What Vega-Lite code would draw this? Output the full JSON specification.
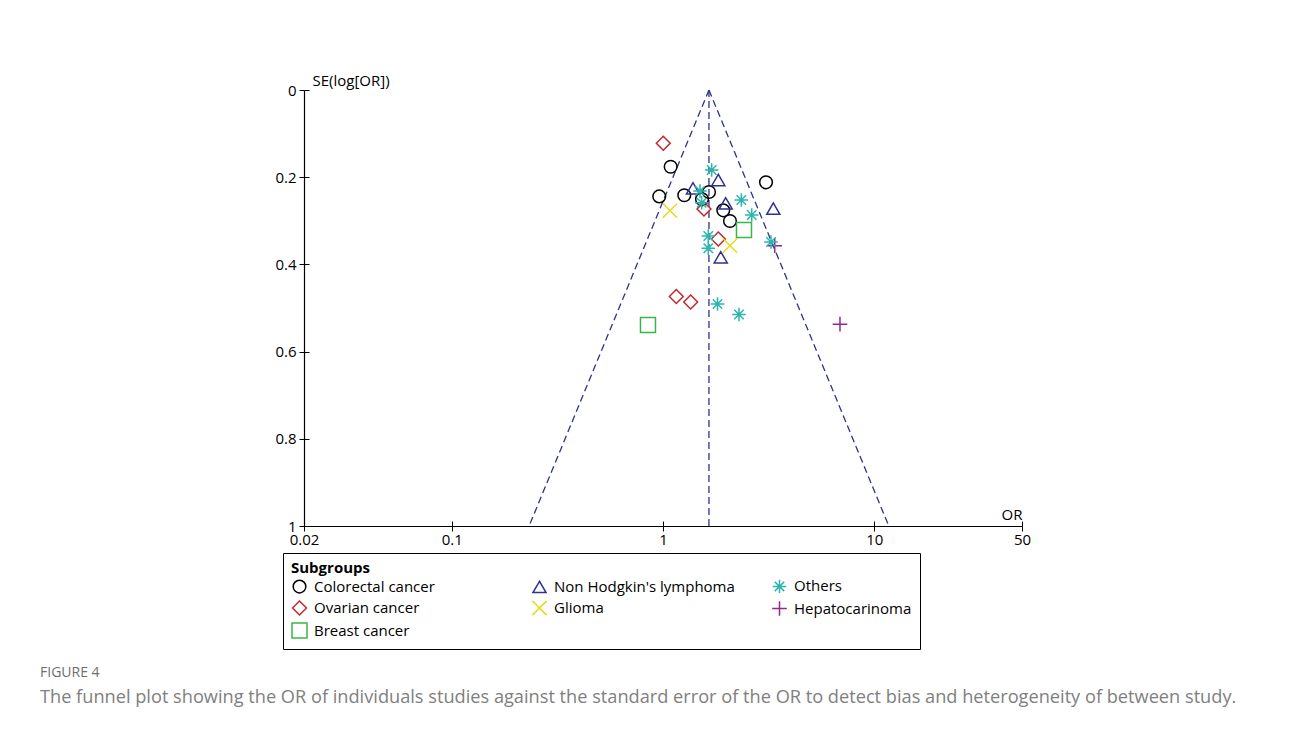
{
  "$schema": "https://vega.github.io/schema/vega-lite/v6.json",
  "width": 718,
  "height": 436,
  "autosize": {"type": "none"},
  "padding": {"left": 304, "top": 90, "right": 268, "bottom": 205},
  "background": "white",
  "config": {
    "view": {"stroke": null},
    "font": "Open Sans"
  },
  "title": {
    "text": "FIGURE 4",
    "subtitle": "The funnel plot showing the OR of individuals studies against the standard error of the OR to detect bias and heterogeneity of between study.",
    "orient": "bottom",
    "anchor": "start",
    "frame": "group",
    "dx": -264,
    "offset": 16,
    "font": "Open Sans",
    "fontSize": 14,
    "fontWeight": "normal",
    "color": "#6e6e6e",
    "subtitleFont": "Open Sans",
    "subtitleFontSize": 18.2,
    "subtitleColor": "#808080",
    "subtitlePadding": 9
  },
  "datasets": {
    "studies": [
      {"group": "Colorectal cancer", "or": 1.087, "se": 0.176},
      {"group": "Colorectal cancer", "or": 0.960, "se": 0.244},
      {"group": "Colorectal cancer", "or": 1.261, "se": 0.2415},
      {"group": "Colorectal cancer", "or": 1.651, "se": 0.234},
      {"group": "Colorectal cancer", "or": 1.530, "se": 0.2507},
      {"group": "Colorectal cancer", "or": 3.073, "se": 0.2117},
      {"group": "Colorectal cancer", "or": 1.929, "se": 0.276},
      {"group": "Colorectal cancer", "or": 2.075, "se": 0.3005},
      {"group": "Ovarian cancer", "or": 1.003, "se": 0.1222},
      {"group": "Ovarian cancer", "or": 1.563, "se": 0.273},
      {"group": "Ovarian cancer", "or": 1.827, "se": 0.3417},
      {"group": "Ovarian cancer", "or": 1.156, "se": 0.4736},
      {"group": "Ovarian cancer", "or": 1.352, "se": 0.4862},
      {"group": "Breast cancer", "or": 2.417, "se": 0.321},
      {"group": "Breast cancer", "or": 0.849, "se": 0.539},
      {"group": "Non Hodgkin's lymphoma", "or": 1.387, "se": 0.2255},
      {"group": "Non Hodgkin's lymphoma", "or": 1.827, "se": 0.2064},
      {"group": "Non Hodgkin's lymphoma", "or": 1.980, "se": 0.26},
      {"group": "Non Hodgkin's lymphoma", "or": 3.327, "se": 0.272},
      {"group": "Non Hodgkin's lymphoma", "or": 1.876, "se": 0.3837},
      {"group": "Glioma", "or": 1.079, "se": 0.2768},
      {"group": "Glioma", "or": 2.075, "se": 0.357},
      {"group": "Hepatocarinoma", "or": 3.379, "se": 0.357},
      {"group": "Hepatocarinoma", "or": 6.88, "se": 0.537},
      {"group": "Others", "or": 1.700, "se": 0.1835},
      {"group": "Others", "or": 1.497, "se": 0.2317},
      {"group": "Others", "or": 1.524, "se": 0.2585},
      {"group": "Others", "or": 2.348, "se": 0.2523},
      {"group": "Others", "or": 2.630, "se": 0.2867},
      {"group": "Others", "or": 1.638, "se": 0.3349},
      {"group": "Others", "or": 1.638, "se": 0.363},
      {"group": "Others", "or": 3.244, "se": 0.3486},
      {"group": "Others", "or": 1.811, "se": 0.4908},
      {"group": "Others", "or": 2.289, "se": 0.5149}
    ],
    "funnel": [
      {"line": "center", "or": 1.65, "se": 0},
      {"line": "center", "or": 1.65, "se": 1},
      {"line": "left", "or": 1.65, "se": 0},
      {"line": "left", "or": 0.2325, "se": 1},
      {"line": "right", "or": 1.65, "se": 0},
      {"line": "right", "or": 11.71, "se": 1}
    ]
  },
  "resolve": {"axis": {"x": "independent", "y": "independent"}},
  "layer": [
    {
      "data": {"name": "funnel"},
      "mark": {"type": "line", "color": "#2e3192", "strokeWidth": 1.3, "strokeDash": [7, 4], "clip": false},
      "encoding": {
        "x": {
          "field": "or", "type": "quantitative",
          "scale": {"type": "log", "domain": [0.02, 50], "nice": false},
          "axis": {"orient": "bottom", "values": [0.02, 0.1, 1, 10, 50], "labels": false, "domain": false, "grid": false, "tickSize": -5, "tickColor": "black", "tickWidth": 1, "title": null}
        },
        "y": {
          "field": "se", "type": "quantitative",
          "scale": {"domain": [0, 1], "reverse": true, "nice": false, "zero": false},
          "axis": {"orient": "left", "values": [0, 0.2, 0.4, 0.6, 0.8, 1], "labels": false, "domain": false, "grid": false, "tickSize": -5, "tickColor": "black", "tickWidth": 1, "title": null}
        },
        "detail": {"field": "line"},
        "order": {"field": "se"}
      }
    },
    {
      "data": {"name": "studies"},
      "mark": {"type": "point", "filled": false, "strokeWidth": 1.5, "opacity": 1},
      "encoding": {
        "x": {
          "field": "or", "type": "quantitative",
          "scale": {"type": "log", "domain": [0.02, 50], "nice": false},
          "axis": {"orient": "bottom", "values": [0.02, 0.1, 1, 10, 50], "format": "~g", "grid": false, "domainColor": "black", "domainWidth": 1.2, "tickColor": "black", "tickSize": 5, "tickWidth": 1, "labelFontSize": 15, "labelColor": "black", "labelPadding": 1, "labelFlush": false, "title": "OR", "titleFontSize": 15, "titleFontWeight": "normal", "titleColor": "black", "titleAlign": "right", "titleBaseline": "alphabetic", "titleX": 718, "titleY": -7}
        },
        "y": {
          "field": "se", "type": "quantitative",
          "scale": {"domain": [0, 1], "reverse": true, "nice": false, "zero": false},
          "axis": {"orient": "left", "values": [0, 0.2, 0.4, 0.6, 0.8, 1], "format": ".1~f", "grid": false, "domainColor": "black", "domainWidth": 1.2, "tickColor": "black", "tickSize": 5, "tickWidth": 1, "labelFontSize": 15, "labelColor": "black", "labelPadding": 3, "labelFlush": false, "title": "SE(log[OR])", "titleFontSize": 15, "titleFontWeight": "normal", "titleColor": "black", "titleAngle": 0, "titleAlign": "left", "titleBaseline": "alphabetic", "titleX": 8, "titleY": -5}
        },
        "color": {
          "field": "group", "type": "nominal",
          "scale": {
            "domain": ["Colorectal cancer", "Non Hodgkin's lymphoma", "Others", "Ovarian cancer", "Glioma", "Hepatocarinoma", "Breast cancer"],
            "range": ["#000000", "#2e3192", "#2bb5ad", "#c1272d", "#e3dc1e", "#93278f", "#39b54a"]
          },
          "legend": {"title": "Subgroups", "orient": "none", "direction": "horizontal", "legendX": -21, "legendY": 463, "columns": 3, "gridAlign": "all", "columnPadding": 34, "rowPadding": 0, "strokeColor": "black", "padding": 8, "titleFontSize": 15, "titleFontWeight": "bold", "titleColor": "black", "titlePadding": 2, "labelFontSize": 15, "labelColor": "black", "labelOffset": 6, "symbolSize": 160, "symbolStrokeWidth": 1.5, "labelLimit": 400}
        },
        "shape": {
          "field": "group", "type": "nominal",
          "scale": {
            "domain": ["Colorectal cancer", "Non Hodgkin's lymphoma", "Others", "Ovarian cancer", "Glioma", "Hepatocarinoma", "Breast cancer"],
            "range": ["circle", "triangle-up", "M-1,0L1,0M0,-1L0,1M-0.7,-0.7L0.7,0.7M-0.7,0.7L0.7,-0.7", "diamond", "M-1,-1L1,1M-1,1L1,-1", "M-1,0L1,0M0,-1L0,1", "square"]
          },
          "legend": {"title": "Subgroups", "orient": "none", "direction": "horizontal", "legendX": -21, "legendY": 463, "columns": 3, "gridAlign": "all", "columnPadding": 34, "rowPadding": 0, "strokeColor": "black", "padding": 8, "titleFontSize": 15, "titleFontWeight": "bold", "titleColor": "black", "titlePadding": 2, "labelFontSize": 15, "labelColor": "black", "labelOffset": 6, "symbolSize": 160, "symbolStrokeWidth": 1.5, "labelLimit": 400}
        },
        "size": {
          "field": "group", "type": "nominal",
          "scale": {
            "domain": ["Colorectal cancer", "Non Hodgkin's lymphoma", "Others", "Ovarian cancer", "Glioma", "Hepatocarinoma", "Breast cancer"],
            "range": [160, 225, 160, 250, 144, 144, 121]
          },
          "legend": null
        }
      }
    }
  ]
}
